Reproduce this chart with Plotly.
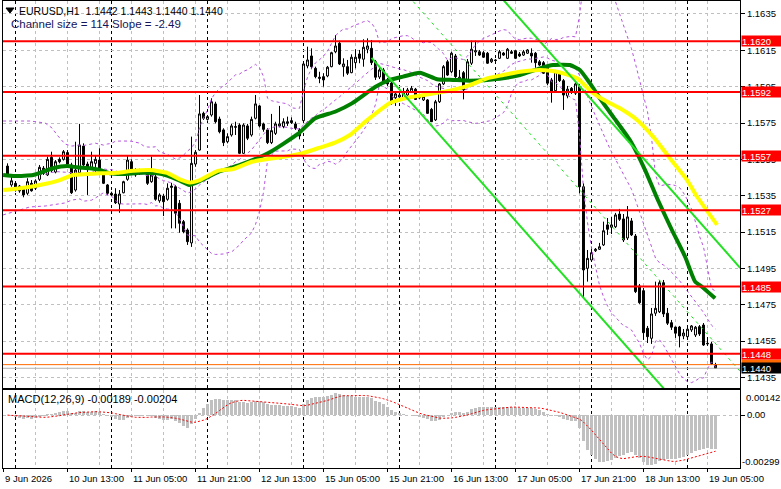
import plotly.graph_objects as go
import pandas as pd

FONT = "Liberation Sans, Arial, sans-serif"

# ---------------- data (EURUSD H1, bar 0 = 10 Jun 00:00) ----------------
first_bar = -2  # 9 Jun 22:00

opens = [1.15513, 1.15409, 1.15418, 1.15403, 1.15385, 1.15363, 1.15418, 1.15391, 1.1544, 1.15501,
         1.15464, 1.15561, 1.1548, 1.1555, 1.1555, 1.15587, 1.15519, 1.15381, 1.15476, 1.15623,
         1.15524, 1.15506, 1.15528, 1.15546, 1.15482, 1.15409, 1.15363, 1.15359, 1.15304, 1.15366,
         1.1544, 1.15537, 1.15491, 1.15469, 1.15488, 1.15473, 1.15427, 1.15454, 1.15322, 1.15348,
         1.1533, 1.15403, 1.15399, 1.15308, 1.15207, 1.15161, 1.1509, 1.15524, 1.15601, 1.15803,
         1.1577, 1.15794, 1.15855, 1.15772, 1.15712, 1.15647, 1.15684, 1.15726, 1.15739, 1.15583,
         1.15734, 1.15684, 1.15776, 1.15844, 1.15745, 1.15712, 1.15642, 1.15693, 1.15734, 1.1573,
         1.15748, 1.15763, 1.15745, 1.15712, 1.15763, 1.16064, 1.16119, 1.16051, 1.16002, 1.16005,
         1.16009, 1.1606, 1.16142, 1.16189, 1.1606, 1.1606, 1.16027, 1.16082, 1.1613, 1.16101,
         1.16156, 1.16161, 1.16087, 1.16003, 1.16042, 1.15987, 1.1597, 1.15889, 1.15893, 1.15886,
         1.15904, 1.15922, 1.15936, 1.15899, 1.15877, 1.15877, 1.15825, 1.15767, 1.15867, 1.15965,
         1.16087, 1.16032, 1.16119, 1.15987, 1.16027, 1.15987, 1.16079, 1.16141, 1.16142, 1.16137,
         1.16134, 1.16087, 1.16097, 1.16106, 1.16135, 1.16106, 1.16142, 1.16148, 1.1613, 1.16124,
         1.16134, 1.16134, 1.16134, 1.16087, 1.16082, 1.1606, 1.15987, 1.15928, 1.16024, 1.15983,
         1.15899, 1.15941, 1.15914, 1.1595, 1.15399, 1.1495, 1.14996, 1.15047, 1.15055, 1.15079,
         1.15189, 1.15176, 1.15179, 1.15249, 1.15222, 1.15117, 1.15211, 1.15128, 1.14853, 1.14827,
         1.1462, 1.14565, 1.14703, 1.14711, 1.14871, 1.14703, 1.14651, 1.14627, 1.14627, 1.14578,
         1.14574, 1.14611, 1.14583, 1.14629, 1.14638, 1.14534, 1.14534, 1.1442]

highs = [1.15528, 1.15464, 1.15427, 1.15409, 1.15399, 1.15446, 1.15436, 1.1544, 1.15519, 1.15513,
         1.15565, 1.15592, 1.15546, 1.15561, 1.15601, 1.15601, 1.15531, 1.15647, 1.15745, 1.15638,
         1.15537, 1.15592, 1.15574, 1.15611, 1.15491, 1.15414, 1.15372, 1.15391, 1.15381, 1.15432,
         1.15568, 1.1555, 1.15501, 1.15498, 1.15495, 1.15488, 1.15565, 1.15464, 1.15363, 1.15359,
         1.15418, 1.15421, 1.15409, 1.15326, 1.15216, 1.1517, 1.15675, 1.15601, 1.15904, 1.15812,
         1.15794, 1.15886, 1.15867, 1.15785, 1.15721, 1.15693, 1.15745, 1.15757, 1.15748, 1.15748,
         1.15745, 1.15785, 1.15904, 1.15849, 1.15752, 1.15721, 1.158, 1.15757, 1.15844, 1.15776,
         1.15785, 1.15781, 1.15757, 1.15721, 1.16087, 1.1617, 1.16161, 1.1606, 1.16032, 1.16024,
         1.16064, 1.16142, 1.16234, 1.16203, 1.16106, 1.16097, 1.16128, 1.16156, 1.16152, 1.16211,
         1.16216, 1.16207, 1.16097, 1.16064, 1.16053, 1.15998, 1.15976, 1.15921, 1.15915, 1.15943,
         1.15943, 1.15954, 1.15943, 1.15904, 1.15904, 1.15882, 1.15833, 1.15877, 1.1597, 1.16069,
         1.16097, 1.16142, 1.1613, 1.16042, 1.16036, 1.16102, 1.16203, 1.16203, 1.16152, 1.16146,
         1.16141, 1.16108, 1.16102, 1.16152, 1.16141, 1.16163, 1.16152, 1.16152, 1.16141, 1.16152,
         1.16157, 1.16161, 1.16141, 1.16097, 1.16091, 1.16069, 1.15998, 1.16042, 1.16036, 1.15992,
         1.15954, 1.15948, 1.15976, 1.15965, 1.15418, 1.15051, 1.15062, 1.15062, 1.1509, 1.15207,
         1.15227, 1.15234, 1.15255, 1.15277, 1.15249, 1.15293, 1.15227, 1.15139, 1.14864, 1.14842,
         1.14633, 1.14732, 1.14877, 1.14886, 1.14886, 1.14732, 1.14666, 1.14629, 1.14633, 1.14616,
         1.14638, 1.14638, 1.14633, 1.14638, 1.14649, 1.14572, 1.14545, 1.1443]

lows = [1.15454, 1.15399, 1.15372, 1.15366, 1.15341, 1.15354, 1.15372, 1.15381, 1.15431, 1.15464,
        1.15458, 1.1548, 1.15473, 1.15528, 1.15543, 1.15513, 1.15359, 1.15372, 1.15464, 1.15506,
        1.15354, 1.15495, 1.15473, 1.15488, 1.15414, 1.15354, 1.15348, 1.15304, 1.15256, 1.15363,
        1.15432, 1.15473, 1.15454, 1.15464, 1.15469, 1.15409, 1.15421, 1.15322, 1.15311, 1.15238,
        1.15322, 1.1517, 1.1517, 1.15146, 1.15143, 1.15079, 1.15068, 1.15509, 1.15598, 1.15767,
        1.15763, 1.15785, 1.15748, 1.15693, 1.15623, 1.15638, 1.15675, 1.15684, 1.15579, 1.15579,
        1.15656, 1.15675, 1.1577, 1.15726, 1.15702, 1.15634, 1.15634, 1.15684, 1.15726, 1.15721,
        1.15734, 1.15745, 1.15712, 1.1566, 1.15757, 1.16051, 1.16046, 1.15996, 1.15969, 1.1595,
        1.16002, 1.16057, 1.16134, 1.16069, 1.16005, 1.16014, 1.16024, 1.16051, 1.16079, 1.1606,
        1.16134, 1.16069, 1.15987, 1.15992, 1.15965, 1.15954, 1.15849, 1.15844, 1.15877, 1.15877,
        1.15899, 1.15915, 1.15877, 1.15882, 1.15871, 1.158, 1.15756, 1.15761, 1.1586, 1.15959,
        1.16009, 1.16025, 1.15998, 1.15977, 1.1588, 1.15976, 1.16069, 1.16119, 1.16119, 1.16108,
        1.16075, 1.1608, 1.16086, 1.16102, 1.16119, 1.16102, 1.1613, 1.16102, 1.16113, 1.16119,
        1.1613, 1.16082, 1.16054, 1.16064, 1.1602, 1.15959, 1.15862, 1.15921, 1.15976, 1.15822,
        1.15886, 1.1591, 1.15904, 1.15363, 1.14785, 1.14877, 1.14985, 1.1504, 1.15051, 1.15073,
        1.15134, 1.15139, 1.15172, 1.15211, 1.15095, 1.15106, 1.15128, 1.14814, 1.14754, 1.14556,
        1.14539, 1.14534, 1.14688, 1.14704, 1.14682, 1.14638, 1.14611, 1.14567, 1.14515, 1.1456,
        1.14567, 1.146, 1.14572, 1.14578, 1.14523, 1.14523, 1.14418, 1.1440]

closes = [1.15464, 1.15432, 1.15381, 1.15376, 1.15354, 1.15427, 1.15377, 1.15431, 1.15506, 1.15473,
          1.1555, 1.15488, 1.15537, 1.15537, 1.15592, 1.15524, 1.15366, 1.15491, 1.15629, 1.15519,
          1.15501, 1.15537, 1.1555, 1.15491, 1.15418, 1.15363, 1.15354, 1.15311, 1.15359, 1.15427,
          1.15546, 1.15482, 1.15464, 1.15491, 1.15476, 1.15418, 1.15464, 1.1533, 1.15354, 1.15317,
          1.15391, 1.15396, 1.15253, 1.15198, 1.15152, 1.15097, 1.15528, 1.15589, 1.158, 1.15776,
          1.15785, 1.15867, 1.15757, 1.15702, 1.15642, 1.15675, 1.15734, 1.1573, 1.15583, 1.15739,
          1.15666, 1.1577, 1.15855, 1.15734, 1.15715, 1.15642, 1.15708, 1.15745, 1.15745, 1.15757,
          1.15757, 1.15752, 1.15721, 1.15679, 1.16075, 1.16097, 1.1606, 1.16005, 1.15996, 1.15987,
          1.16057, 1.16137, 1.16174, 1.16075, 1.16075, 1.16024, 1.16112, 1.16112, 1.16106, 1.16167,
          1.16174, 1.16082, 1.16002, 1.16042, 1.15977, 1.15965, 1.15858, 1.1591, 1.15904, 1.15917,
          1.15932, 1.15941, 1.1588, 1.15888, 1.15895, 1.15803, 1.15757, 1.15867, 1.15965, 1.1606,
          1.16014, 1.16134, 1.16005, 1.16002, 1.15932, 1.16087, 1.16156, 1.16148, 1.16124, 1.16112,
          1.16079, 1.16101, 1.16094, 1.16142, 1.16124, 1.16156, 1.16134, 1.16106, 1.16119, 1.16142,
          1.16152, 1.16119, 1.16082, 1.16069, 1.16024, 1.15969, 1.15922, 1.16032, 1.15983, 1.15904,
          1.15936, 1.15922, 1.15965, 1.15399, 1.14941, 1.15005, 1.15036, 1.15055, 1.15069, 1.15157,
          1.15165, 1.15189, 1.15244, 1.1522, 1.15106, 1.15233, 1.15134, 1.14822, 1.14761, 1.14596,
          1.14574, 1.14699, 1.1473, 1.14871, 1.14699, 1.14648, 1.14626, 1.14593, 1.14578, 1.14594,
          1.14615, 1.14633, 1.14626, 1.14589, 1.14528, 1.14537, 1.14424, 1.1440]

bars = list(range(first_bar, first_bar + len(closes)))

# moving averages (bar position, price)
ma_green_bars = [-3.1, -0.1, 4.4, 6.9, 9.4, 12.9, 15.4, 18.6, 21.1, 23.6, 26.9, 31.1, 35.4, 37.9, 41.1,
                 43.4, 46.1, 50.6, 56.1, 63.1, 70.6, 74.9, 79.9, 84.1, 89.9, 93.6, 96.9, 101.1, 105.4,
                 109.4, 113.6, 117.9, 121.9, 126.1, 131.1, 134.4, 138.6, 141.1, 143.6, 146.1, 149.4,
                 153.6, 157.4, 160.6, 164.1, 167.4, 169.9, 171.6, 174.9]
ma_green = [1.15464, 1.15458, 1.15464, 1.15482, 1.15501, 1.15513, 1.15506, 1.15501, 1.15491, 1.15473,
            1.15469, 1.15476, 1.15473, 1.1546, 1.15432, 1.15409, 1.15431, 1.1548, 1.15519, 1.15583,
            1.1569, 1.15776, 1.15812, 1.15858, 1.15948, 1.15987, 1.16005, 1.16027, 1.15991, 1.15987,
            1.15983, 1.15987, 1.15996, 1.16014, 1.16051, 1.16069, 1.16069, 1.16042, 1.15969, 1.15886,
            1.15785, 1.15656, 1.15491, 1.15326, 1.15161, 1.15014, 1.14877, 1.14849, 1.14785]
ma_yellow_bars = [-3.1, 1.1, 6.1, 11.1, 14.4, 17.9, 21.1, 25.4, 29.4, 33.6, 37.9, 41.1, 43.6, 46.1, 50.6,
                  54.4, 59.1, 67.4, 71.6, 75.6, 79.9, 83.6, 87.4, 89.9, 93.6, 98.6, 103.6, 108.6, 113.6,
                  117.9, 121.9, 126.1, 131.1, 135.4, 140.4, 144.4, 147.9, 151.1, 155.4, 159.4, 163.6,
                  167.9, 170.4, 175.4]
ma_yellow = [1.15381, 1.15391, 1.15409, 1.15436, 1.15464, 1.15469, 1.15473, 1.15476, 1.15487, 1.15491,
             1.15476, 1.1544, 1.15423, 1.15436, 1.15486, 1.15497, 1.15537, 1.15565, 1.15583, 1.15611,
             1.15642, 1.15684, 1.15756, 1.158, 1.1586, 1.15892, 1.1591, 1.15928, 1.15959, 1.15996,
             1.16014, 1.16032, 1.16042, 1.16032, 1.15996, 1.15914, 1.15867, 1.15831, 1.15767, 1.15675,
             1.15556, 1.15436, 1.15344, 1.15189]

# Bollinger bands before the first full 20-bar window
bb_early_bars = [-3.1, 3.6, 7.4, 9.1, 10.6, 12.4, 14.1, 16.1]
bb_early_upper = [1.15761, 1.15761, 1.1575, 1.15723, 1.15679, 1.15634, 1.15623, 1.15629]
bb_early_mid = [1.15466, 1.15462, 1.15468, 1.15478, 1.15482, 1.15478, 1.15474, 1.15473]
bb_early_lower = [1.15244, 1.15288, 1.15293, 1.15298, 1.15302, 1.1531, 1.15326, 1.15332]
bb_period, bb_dev = 20, 2.0

# linear regression channel (from bar 89, slope -2.49 pips/bar, size 114 pips)
chan_bars = [89, 181.2]
chan_mid = [1.16678, 1.14382]
chan_half = 0.0057

level_prices = [1.1620, 1.1592, 1.1557, 1.1527, 1.1485, 1.1448]
ask_price = 1.1442
bid_price = 1.1440
price_ticks = [1.1435, 1.1455, 1.1475, 1.1495, 1.1515, 1.1535, 1.1555, 1.1575, 1.1595, 1.1615, 1.1635]

time_tick_bars = [-3, 13, 29, 45, 61, 77, 93, 109, 125, 141, 157, 173]
time_tick_labels = ["9 Jun 2026", "10 Jun 13:00", "11 Jun 05:00", "11 Jun 21:00", "12 Jun 13:00",
                    "15 Jun 05:00", "15 Jun 21:00", "16 Jun 13:00", "17 Jun 05:00", "17 Jun 21:00",
                    "18 Jun 13:00", "19 Jun 05:00"]
day_start_bars = [0, 24, 48, 72, 96, 120, 144, 168]
grid_bars = list(range(-3, 182, 8))
macd_top, macd_bottom = 0.00142, -0.00299

# ---------------- indicators ----------------
cs = pd.Series(closes, index=bars)
ema_fast = cs.ewm(span=12, adjust=False).mean()
ema_slow = cs.ewm(span=26, adjust=False).mean()
macd = ema_fast - ema_slow
signal = macd.rolling(9, min_periods=1).mean()

roll_mid = cs.rolling(bb_period).mean()
roll_sd = cs.rolling(bb_period).std(ddof=0)
valid = roll_mid.dropna().index
bb_bars = bb_early_bars + list(valid)
bb_mid = bb_early_mid + list(roll_mid[valid])
bb_up = bb_early_upper + list((roll_mid + bb_dev * roll_sd)[valid])
bb_lo = bb_early_lower + list((roll_mid - bb_dev * roll_sd)[valid])

# ---------------- geometry ----------------
W, H = 781, 489
ML, MR, MT, MB = 3, 41, 1, 21
PX0, PX1, PY0, PY1 = ML, W - MR, MT, H - MB


def pxx(px):
    return (px - PX0) / (PX1 - PX0)


def pxy(py):
    return (PY1 - py) / (PY1 - PY0)


main_dom = [pxy(388), 1.0]
macd_dom = [0.0, pxy(390)]
x_range = [-3.125, 181.125]
y_range = [1.142914, 1.164215]

AX_FONT = dict(size=9.5, family=FONT, color="black")

fig = go.Figure()

fig.add_trace(go.Candlestick(
    x=bars, open=opens, high=highs, low=lows, close=closes,
    increasing=dict(line=dict(color="black", width=1), fillcolor="white"),
    decreasing=dict(line=dict(color="black", width=1), fillcolor="black"),
    whiskerwidth=0, showlegend=False, hoverinfo="skip", xaxis="x", yaxis="y"))

for ys in [bb_up, bb_mid, bb_lo]:
    fig.add_trace(go.Scatter(x=bb_bars, y=ys, mode="lines", showlegend=False, hoverinfo="skip",
                             line=dict(color="#b455dd", width=1, dash="3px,3px")))

fig.add_trace(go.Scatter(x=ma_green_bars, y=ma_green, mode="lines", showlegend=False, hoverinfo="skip",
                         line=dict(color="#008000", width=4, shape="spline", smoothing=0.5)))
fig.add_trace(go.Scatter(x=ma_yellow_bars, y=ma_yellow, mode="lines", showlegend=False, hoverinfo="skip",
                         line=dict(color="#ffff00", width=4, shape="spline", smoothing=0.5)))

chan_up = [m + chan_half for m in chan_mid]
chan_lo = [m - chan_half for m in chan_mid]
fig.add_trace(go.Scatter(x=chan_bars, y=chan_up, mode="lines", showlegend=False, hoverinfo="skip",
                         line=dict(color="#22e022", width=2)))
fig.add_trace(go.Scatter(x=chan_bars, y=chan_lo, mode="lines", showlegend=False, hoverinfo="skip",
                         line=dict(color="#22e022", width=2)))
fig.add_trace(go.Scatter(x=chan_bars, y=chan_mid, mode="lines", showlegend=False, hoverinfo="skip",
                         line=dict(color="#22e022", width=1, dash="3px,4px")))

# MACD
fig.add_trace(go.Bar(x=bars, y=list(macd), marker=dict(color="#c0c0c0", line=dict(width=0)), width=0.55,
                     showlegend=False, hoverinfo="skip", xaxis="x2", yaxis="y2"))
fig.add_trace(go.Scatter(x=bars, y=list(signal), mode="lines", showlegend=False, hoverinfo="skip",
                         line=dict(color="#ff0000", width=1, dash="2px,2px"), xaxis="x2", yaxis="y2"))

shapes = []
for b in day_start_bars:
    for yr in ["y domain", "y2 domain"]:
        shapes.append(dict(type="line", xref="x", x0=b, x1=b, yref=yr, y0=0, y1=1, layer="below",
                           line=dict(color="black", width=1, dash="3px,3px")))
for p in level_prices:
    shapes.append(dict(type="line", xref="paper", x0=0, x1=1, yref="y", y0=p, y1=p, layer="above",
                       line=dict(color="#ff0000", width=2)))
shapes.append(dict(type="line", xref="paper", x0=0, x1=1, yref="y", y0=ask_price, y1=ask_price,
                   layer="above", line=dict(color="#ff6a00", width=1)))
shapes.append(dict(type="line", xref="paper", x0=0, x1=1, yref="y", y0=bid_price, y1=bid_price,
                   layer="above", line=dict(color="#b0b0b0", width=1)))
for b in time_tick_bars:
    shapes.append(dict(type="line", xref="x", x0=b, x1=b, yref="paper", y0=0, y1=pxy(472),
                       line=dict(color="black", width=1)))
# title triangle
tri = [(6, 8), (14, 8), (10, 13)]
path = "M {:.5f},{:.5f} L {:.5f},{:.5f} L {:.5f},{:.5f} Z".format(
    pxx(tri[0][0]), pxy(tri[0][1]), pxx(tri[1][0]), pxy(tri[1][1]), pxx(tri[2][0]), pxy(tri[2][1]))
shapes.append(dict(type="path", xref="paper", yref="paper", path=path, fillcolor="black",
                   line=dict(color="black", width=1)))

annotations = []


def box_label(price, text, bg):
    annotations.append(dict(xref="paper", x=1, xanchor="left", xshift=1, yref="y", y=price,
                            yanchor="middle", text=text, showarrow=False, bgcolor=bg,
                            font=dict(color="white", size=9.5, family=FONT), borderpad=0,
                            width=40, height=10, align="left"))


box_label(ask_price, "{:.4f}".format(ask_price), "#ff6a00")
for p in level_prices:
    box_label(p, "{:.4f}".format(p), "#ff0000")
box_label(bid_price, "{:.4f}".format(bid_price), "#000000")

for b, t in zip(time_tick_bars, time_tick_labels):
    annotations.append(dict(xref="x", x=b, xanchor="left", xshift=-1, yref="paper", y=pxy(478),
                            yanchor="middle", text=t, showarrow=False, font=AX_FONT))

annotations.append(dict(xref="paper", x=1, xanchor="left", xshift=4, yref="paper", y=pxy(397),
                        yanchor="middle", text="{:.5f}".format(macd_top), showarrow=False,
                        font=AX_FONT))
annotations.append(dict(xref="paper", x=1, xanchor="left", xshift=0, yref="paper", y=pxy(461),
                        yanchor="middle", text="{:.5f}".format(macd_bottom), showarrow=False,
                        font=AX_FONT))

annotations.append(dict(xref="paper", x=pxx(17), xanchor="left", yref="paper", y=pxy(11),
                        yanchor="middle", text="EURUSD,H1  1.1442 1.1443 1.1440 1.1440",
                        showarrow=False, font=dict(color="black", size=10.5, family=FONT)))
annotations.append(dict(xref="paper", x=pxx(9), xanchor="left", yref="paper", y=pxy(24),
                        yanchor="middle", text="Channel size = 114 Slope = -2.49",
                        showarrow=False, font=dict(color="#14145a", size=11.5, family=FONT)))
annotations.append(dict(xref="paper", x=pxx(6), xanchor="left", yref="paper", y=pxy(399),
                        yanchor="middle", text="MACD(12,26,9) -0.00189 -0.00204",
                        showarrow=False, font=dict(color="black", size=11, family=FONT)))

axis_common = dict(showline=True, mirror=True, linecolor="black", linewidth=1, zeroline=False,
                   fixedrange=True)

fig.update_layout(
    width=W, height=H, margin=dict(l=ML, r=MR, t=MT, b=MB, pad=0),
    paper_bgcolor="white", plot_bgcolor="white", showlegend=False, bargap=0,
    font=dict(family=FONT, size=11, color="black"),
    xaxis=dict(domain=[0, 1], range=x_range, anchor="y", tickvals=grid_bars, showticklabels=False,
               ticks="", showgrid=True, gridcolor="#c0c0c0", gridwidth=1, griddash="3px,3px",
               rangeslider=dict(visible=False), **axis_common),
    xaxis2=dict(domain=[0, 1], range=x_range, anchor="y2", matches="x", tickvals=grid_bars,
                showticklabels=False, ticks="", showgrid=True, gridcolor="#c0c0c0", gridwidth=1,
                griddash="3px,3px", **axis_common),
    yaxis=dict(domain=main_dom, range=y_range, side="right", anchor="x", tickvals=price_ticks,
               ticktext=["{:.4f}".format(v) for v in price_ticks], ticks="outside", ticklen=4,
               tickcolor="black", tickfont=AX_FONT,
               showgrid=True, gridcolor="#c0c0c0", gridwidth=1, griddash="3px,3px", **axis_common),
    yaxis2=dict(domain=macd_dom, range=[macd_bottom, macd_top], side="right", anchor="x2",
                tickvals=[0], ticktext=["0.00"], ticks="outside", ticklen=4, tickcolor="black",
                tickfont=AX_FONT, showgrid=True,
                gridcolor="#c0c0c0", gridwidth=1, griddash="3px,3px", **axis_common),
    shapes=shapes, annotations=annotations,
)

fig.write_html("out.html", config={"displayModeBar": False, "staticPlot": True})
